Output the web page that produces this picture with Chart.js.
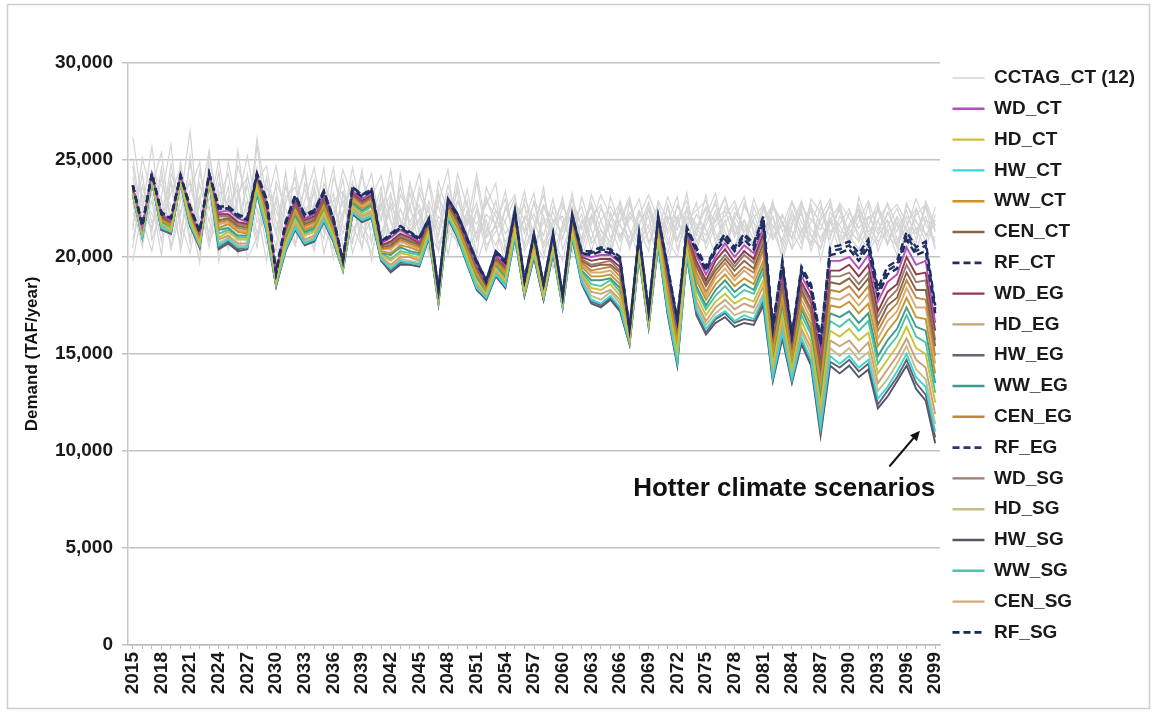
<!DOCTYPE html>
<html>
<head>
<meta charset="utf-8">
<script src="https://cdn.jsdelivr.net/npm/chart.js@4.4.1/dist/chart.umd.min.js"></script>
<style>
html,body{margin:0;padding:0;background:#fff;}
#wrap{position:relative;width:1155px;height:712px;}
canvas{display:block;}
</style>
</head>
<body>
<div id="wrap"><canvas id="c" width="1155" height="712"></canvas></div>
<script>
// ---------- categories ----------
const years = ['2015','2016','2017','2018','2019','2020','2021','2022','2023','2024',
'2025','2026','2027','2028','2029','2030','2031','2032','2033','2034',
'2035','2036','2037','2038','2039','2040','2041','2042','2043','2044',
'2045','2046','2047','2048','2049','2050','2051','2052','2053','2054',
'2055','2056','2057','2058','2059','2060','2061','2062','2063','2064',
'2065','2066','2067','2068','2069','2070','2071','2072','2073','2074',
'2075','2076','2077','2078','2079','2080','2081','2082','2083','2084',
'2085','2086','2087','2088','2089','2090','2091','2092','2093','2094',
'2095','2096','2097','2098','2099'];

// ---------- y axis ticks ----------
const yTicks = [0, 5000, 10000, 15000, 20000, 25000, 30000];

// ---------- CCTAG_CT (12 gray runs), TAF/year ----------
const G01 = [26200,22800,21500,24600,20500,23000,26500,21200,24000,19800,
22500,23800,20600,25800,21900,19600,22800,24100,21000,23600,
21500,20400,23300,22100,24500,20700,22800,19900,24300,21400,
22000,20100,23200,21800,20700,22400,19600,21300,22900,20500,
21800,22700,20300,22100,19400,21600,23000,20700,22200,21100,
19900,22500,21400,20600,22800,21300,19600,21900,22400,20800,
21600,22900,20300,22100,21200,19700,22600,20900,21800,20400,
21300,22700,19800,22000,20900,21500,22400,20300,21100,21900,
20700,22100,21200,22600,20500];
const G02 = [21400,25100,23200,20800,23900,22200,24800,22600,20500,23100,
24300,21200,22900,20500,23600,22400,21100,24500,21900,20300,
23800,22600,21200,23100,20400,23600,21900,24500,21100,22700,
20600,22900,21400,23700,22000,19900,22500,21000,21600,23400,
20700,21900,19800,22600,21400,23100,20200,21900,20900,22500,
21600,20300,22800,21200,22100,19700,21800,23100,20600,21400,
22500,20900,21900,20200,22800,21400,20600,22100,19800,21600,
22900,21100,20400,22300,21600,20800,22700,21300,21900,20600,
21800,20200,22500,21100,21700];
const G03 = [19800,22400,25700,21900,23300,24600,20900,23800,21800,24400,
20500,22900,25200,22400,19800,23100,21700,20600,23800,22200,
20900,24100,22700,21300,22400,19800,23200,21800,20700,22600,
24300,21400,20300,22800,21100,23500,20800,22200,21700,19600,
22400,21200,22800,20700,21900,21300,23300,20400,22000,22700,
21000,21800,22900,20500,21300,22200,20900,20000,22600,21500,
20800,22100,23000,21200,21900,20300,22400,21600,20900,22800,
21400,20600,22100,23000,20700,21500,22200,20900,22600,21300,
22000,20800,21500,20400,22200];
const G04 = [22800,20500,23600,25400,21500,24200,22100,19700,25300,22600,
21400,24700,23000,20900,24100,21300,23600,22500,24700,20500,
22900,21900,24000,20800,22900,24300,21200,22600,19900,23800,
22200,20900,23400,20100,22900,21700,24300,21500,20600,21900,
23000,20500,21600,23200,21000,19800,22100,21400,22700,20300,
23100,21600,21000,22400,20700,22000,21400,22600,21800,20500,
22100,23300,20800,21700,20100,22600,21300,22100,20700,22400,
21000,21800,22900,20500,22100,21400,20800,22000,22400,21100,
20600,21700,22500,21100,21900];
const G05 = [24100,21900,20300,23100,25800,21200,23400,24900,20800,21900,
23600,20100,22400,24600,21200,22900,20400,22100,23500,21800,
24600,20700,22200,23900,21600,20800,23300,20600,22500,21200,
21900,23800,20700,21700,23400,20400,21300,22900,22100,20800,
21500,23400,20900,19900,22600,21800,20700,23100,21400,20000,
22300,21100,21900,23000,20800,21600,20200,22000,22900,21200,
20700,21900,22400,21000,22600,21800,20100,21500,22200,20900,
22800,21400,21000,21900,20300,21700,22500,21200,20600,22300,
21300,22400,20900,22600,21400];
const G06 = [20500,23700,21800,22500,21100,24900,21600,23100,20900,23400,
20800,25500,21900,23200,20600,23900,22500,21300,22900,24600,
21800,23300,20500,21900,24200,22600,20800,23100,22000,20400,
23300,21900,22600,20900,23800,21100,22400,20300,21800,23000,
20600,22100,21300,23600,20100,21700,22600,20800,23200,21900,
20500,22900,21400,20000,22500,21300,23100,21800,20900,22200,
21400,20100,22600,21800,20700,23000,21600,20900,22100,21300,
20400,22600,21700,20900,22800,22000,21200,20300,21900,22700,
20900,21500,23000,21700,20800];
const G07 = [22300,20900,24400,23700,22600,20700,25200,20300,23100,21200,
24900,22300,21500,26100,23000,21100,24400,20600,22300,23300,
20200,22200,24500,23000,21000,21900,22700,21100,23600,21800,
22700,20400,23900,22200,21400,22900,20100,23600,22400,21200,
21900,22700,20600,21800,22300,21000,22400,19900,21700,23200,
22100,20800,22300,21600,22800,20500,22100,21400,23300,20300,
21900,22700,21300,20500,21900,20900,22800,21400,20100,21800,
22200,20700,22600,21300,21700,22500,20900,22700,20300,21600,
22500,21300,21900,20800,22600];
const G08 = [24700,21400,22900,20100,24300,22900,23800,21500,24700,20300,
22900,21800,23700,21200,22700,24700,21900,23000,21300,22600,
23500,21400,22900,21600,20500,23100,24200,21900,20300,23300,
21300,24000,21700,21300,20800,22200,21700,22700,23800,20300,
22600,21400,22200,21100,23000,20400,21900,22600,20700,21400,
20800,22400,20700,22100,23200,21900,20600,22700,21500,22800,
20400,21600,22100,22900,21300,22200,20900,22700,21800,20500,
22600,21900,21400,22800,21000,22300,21500,22100,21200,22800,
21600,20900,22200,22700,21300];
const G09 = [21600,24300,20900,22400,23900,20300,22900,21400,23600,22100,
20400,23300,24100,22500,21400,20300,23100,23600,21600,24000,
22400,19900,21900,24600,22200,21400,22500,23900,21800,20700,
23600,22300,21100,23300,21900,20700,23900,21000,22400,21800,
20300,23000,21900,20500,21700,22800,21300,22200,20300,21900,
22600,21700,20500,21800,22400,20800,22600,20400,21900,22400,
22900,21200,20500,22300,21600,20600,21900,22700,21300,22000,
20700,23000,22300,21100,22600,20500,23100,21600,20800,21400,
20100,22700,21800,21200,21000];
const G10 = [23400,22600,21300,24100,22100,23600,20700,24400,22400,25000,
21900,20600,24300,21800,22200,23600,20300,22700,24400,21200,
22400,24600,21600,20700,23300,21900,23600,20300,23200,22400,
21700,21000,22800,24500,20500,22000,21200,21900,20100,22600,
21300,20700,22900,22100,20800,22600,21700,21000,22800,21400,
20300,21900,23100,20900,21600,22700,21200,22100,20300,21500,
22600,21800,23100,21300,20800,22000,22700,21100,21600,22900,
21800,21100,20500,21700,22400,20800,21800,22900,21400,22200,
22700,21800,20300,21900,21600];
const G11 = [20900,23200,22200,21300,24800,21800,20200,22800,25500,21700,
23100,21300,20800,23900,24700,21800,20900,22100,20700,22800,
21300,22900,23400,20200,21800,22900,20500,22800,21300,23800,
21100,22600,20300,21900,22900,21600,22800,20600,21300,22400,
23200,20300,21400,22700,21900,22100,20500,21700,22600,20800,
21900,22800,20400,22300,21500,20000,22700,20900,22400,21700,
21100,22400,20300,22000,23100,21200,20500,22500,21800,21000,
22400,20300,21900,22600,21300,21200,22100,20700,22500,21800,
20500,22800,21400,22100,20400];
const G12 = [25100,21800,23700,23000,20400,22300,24000,21900,21300,23800,
22600,23500,19900,21000,22400,20500,23800,21300,22600,20900,
23100,21000,22300,23700,21300,20200,22100,23300,20500,21600,
22400,20800,22100,21400,24300,22600,20900,23100,21500,20200,
22800,21900,23300,20200,21400,20900,23000,21500,22100,20600,
21700,21000,22100,21400,20300,22900,21900,20800,22100,21100,
23200,20700,21700,22600,21300,21800,21100,22900,20400,22200,
21200,22400,20800,21900,22700,21100,20400,21600,22800,20700,
22100,21400,20700,22900,21600];

// ---------- scenario series, TAF/year ----------
const WD_CT = [23600,21500,24300,22200,21900,24200,22500,21200,24300,22300,
22400,22000,21800,24200,22800,19100,21600,23000,22000,22200,
23200,21900,19700,23400,23000,23300,20700,21000,21400,21100,
20800,21900,18200,22900,22100,20800,19600,18700,20100,19600,
22200,18700,21100,18500,21100,17900,22100,20100,20000,20100,
20100,19700,16200,21100,17100,21900,19200,16500,21300,20100,
19100,20000,20700,20000,20600,20200,21500,16200,19300,15700,
19000,18100,15200,19800,19800,20000,19400,20100,17700,18700,
19100,20500,19600,19800,16600];
const HD_CT = [23300,21200,24000,21700,21400,23900,21900,20700,24000,21000,
21300,20900,20900,23600,21800,18700,20700,21900,21100,21300,
22300,21100,19400,22600,22200,22400,20100,19800,20200,20100,
19900,21300,17800,22300,21300,20000,18700,18100,19400,18800,
21400,18200,20300,18000,20500,17600,21300,19100,18400,18300,
18600,18000,15700,20300,16600,21000,17700,15100,20400,18000,
17000,17700,18100,17600,17900,17700,18800,14400,17000,14200,
16700,15600,12300,16200,15900,16300,15700,16100,14000,14700,
15400,16400,15300,15000,12500];
const HW_CT = [23200,21000,23900,21500,21300,23800,21700,20600,23900,20600,
20900,20500,20500,23400,21400,18600,20400,21500,20700,20900,
21900,20900,19300,22300,21900,22100,19900,19400,19800,19700,
19600,21100,17700,22100,21100,19700,18400,17900,19100,18500,
21100,18100,20100,17900,20300,17400,21100,18700,17800,17600,
18000,17400,15600,20100,16500,20700,17200,14600,20100,17300,
16300,16900,17200,16700,17000,16800,17900,13800,16100,13700,
15800,14700,11200,14900,14500,14900,14300,14700,12700,13300,
14100,15000,13800,13300,11000];
const WW_CT = [23500,21300,24100,21900,21600,24000,22100,20900,24100,21500,
21700,21300,21200,23800,22200,18900,21100,22300,21400,21600,
22600,21400,19600,22900,22500,22800,20300,20200,20600,20500,
20300,21500,18000,22500,21600,20300,19100,18300,19700,19100,
21700,18400,20600,18200,20700,17700,21600,19500,19000,19000,
19100,18600,15900,20600,16800,21400,18300,15600,20800,18800,
17800,18600,19100,18500,18900,18600,19800,15100,17800,14800,
17500,16500,13400,17500,17400,17700,17100,17600,15400,16200,
16800,17900,16900,16800,14000];
const CEN_CT = [23600,21400,24200,22000,21800,24100,22300,21100,24200,21900,
22000,21600,21500,24000,22500,19000,21400,22700,21700,21900,
22900,21600,19700,23200,22800,23100,20500,20600,21000,20800,
20600,21700,18100,22700,21800,20600,19400,18500,19900,19400,
22000,18600,20800,18400,20900,17800,21800,19800,19500,19600,
19600,19200,16100,20800,17000,21700,18800,16100,21100,19500,
18500,19300,19900,19300,19800,19400,20700,15600,18600,15300,
18300,17300,14300,18700,18600,18900,18300,18900,16500,17500,
17900,19200,18300,18300,15400];
const RF_CT = [23700,21600,24300,22300,22000,24200,22600,21300,24300,22600,
22600,22200,22000,24300,23000,19200,21800,23200,22200,22400,
23400,22000,19800,23600,23200,23500,20800,21200,21600,21300,
21000,22000,18300,23000,22200,21000,19800,18800,20300,19800,
22400,18800,21200,18600,21200,18000,22200,20300,20300,20500,
20400,20000,16300,21200,17200,22100,19500,16800,21500,20500,
19500,20500,21200,20500,21200,20700,22100,16500,19800,16000,
19500,18600,15800,20500,20600,20800,20200,20900,18400,19500,
19800,21300,20500,20800,17500];
const WD_EG = [23600,21500,24200,22100,21800,24100,22400,21100,24200,22200,
22200,21800,21700,24100,22700,19100,21500,22900,21900,22100,
23100,21800,19700,23300,22900,23200,20600,20800,21200,21000,
20700,21800,18200,22800,22000,20700,19500,18600,20100,19500,
22100,18600,21000,18400,21000,17900,22000,20000,19800,19900,
19900,19500,16100,21000,17000,21800,19000,16300,21200,19800,
18800,19800,20400,19700,20300,19900,21200,15900,19000,15500,
18700,17800,14900,19300,19300,19600,19000,19600,17200,18200,
18600,20000,19100,19200,16200];
const HD_EG = [23300,21100,24000,21600,21400,23900,21800,20700,24000,20900,
21100,20700,20700,23500,21700,18600,20600,21800,20900,21100,
22100,21100,19400,22500,22100,22300,20000,19600,20000,20000,
19800,21200,17700,22200,21300,19900,18600,18000,19300,18700,
21300,18200,20300,18000,20400,17500,21300,19000,18200,18100,
18300,17800,15700,20300,16600,20900,17500,14900,20300,17700,
16700,17400,17800,17300,17600,17400,18500,14200,16600,14000,
16300,15300,11900,15700,15400,15700,15100,15600,13500,14200,
14900,15800,14700,14300,11900];
const HW_EG = [23200,21000,23900,21400,21200,23800,21600,20500,23900,20500,
20800,20400,20500,23300,21400,18500,20400,21500,20700,20900,
21900,20800,19300,22300,21900,22100,19800,19300,19700,19700,
19600,21000,17600,22000,21000,19700,18400,17800,19100,18500,
21100,18000,20000,17800,20200,17400,21000,18700,17700,17500,
17900,17300,15500,20000,16400,20700,17100,14500,20100,17100,
16100,16800,17100,16600,16800,16700,17700,13700,16000,13600,
15700,14600,11000,14600,14300,14700,14100,14500,12400,13100,
13800,14700,13500,12900,10700];
const WW_EG = [23400,21300,24100,21800,21600,24000,22000,20900,24100,21400,
21500,21100,21100,23700,22000,18800,21000,22200,21300,21500,
22500,21300,19500,22800,22400,22700,20200,20100,20500,20300,
20200,21400,17900,22400,21500,20200,19000,18200,19600,19000,
21600,18400,20500,18200,20600,17700,21500,19300,18800,18800,
18900,18400,15900,20500,16800,21300,18100,15500,20700,18500,
17500,18300,18800,18200,18600,18300,19500,14900,17600,14600,
17300,16200,13000,17100,16900,17200,16600,17100,14900,15700,
16300,17400,16400,16200,13500];
const CEN_EG = [23500,21400,24200,22000,21700,24100,22200,21000,24200,21800,
21900,21500,21400,23900,22400,18900,21300,22600,21600,21800,
22800,21600,19600,23100,22700,23000,20400,20500,20900,20700,
20500,21600,18000,22600,21800,20500,19300,18400,19800,19300,
21900,18500,20800,18300,20800,17800,21800,19700,19300,19400,
19500,19000,16000,20800,16900,21600,18600,15900,21000,19200,
18200,19100,19700,19000,19500,19200,20400,15500,18400,15100,
18100,17100,14000,18300,18200,18500,17900,18500,16200,17100,
17600,18800,17900,17800,14900];
const RF_EG = [23700,21600,24300,22300,22000,24200,22600,21300,24300,22500,
22500,22100,22000,24300,22900,19200,21800,23100,22200,22400,
23400,22000,19800,23600,23200,23500,20800,21100,21500,21200,
21000,22000,18300,23000,22200,21000,19800,18800,20300,19800,
22400,18800,21200,18600,21200,18000,22200,20200,20200,20400,
20300,19900,16300,21200,17200,22100,19400,16700,21500,20400,
19400,20400,21100,20400,21100,20600,22000,16400,19700,15900,
19400,18500,15700,20300,20400,20600,20000,20700,18200,19300,
19600,21100,20300,20600,17300];
const WD_SG = [23600,21500,24200,22100,21800,24100,22400,21100,24200,22100,
22100,21700,21600,24100,22600,19000,21400,22800,21800,22000,
23000,21700,19700,23300,22900,23100,20600,20700,21100,20900,
20600,21800,18100,22800,21900,20700,19400,18600,20000,19500,
22100,18600,20900,18400,21000,17900,21900,19900,19600,19700,
19800,19300,16100,20900,17000,21700,18900,16200,21100,19600,
18600,19500,20100,19500,20100,19700,21000,15800,18800,15400,
18500,17600,14600,19000,19000,19200,18600,19200,16900,17800,
18300,19600,18700,18800,15700];
const HD_SG = [23300,21100,24000,21500,21300,23900,21700,20600,24000,20700,
21000,20600,20600,23400,21500,18600,20500,21700,20800,21000,
22000,21000,19400,22400,22000,22200,19900,19500,19900,19800,
19700,21100,17700,22100,21200,19800,18500,17900,19200,18600,
21200,18100,20200,17900,20300,17500,21200,18800,18000,17800,
18200,17600,15600,20200,16500,20800,17400,14700,20200,17500,
16500,17100,17500,17000,17200,17100,18100,14000,16400,13900,
16100,15000,11500,15300,14900,15300,14700,15100,13100,13700,
14500,15400,14200,13700,11400];
const HW_SG = [23200,21000,23900,21400,21200,23800,21600,20500,23900,20400,
20700,20300,20400,23300,21300,18500,20300,21400,20600,20800,
21800,20800,19300,22200,21800,22000,19800,19200,19600,19600,
19500,21000,17600,22000,21000,19600,18300,17800,19000,18400,
21000,18000,20000,17800,20200,17400,21000,18600,17600,17400,
17800,17200,15500,20000,16400,20600,17000,14400,20000,17000,
16000,16600,16900,16400,16600,16500,17500,13600,15800,13500,
15500,14400,10800,14400,14000,14400,13800,14200,12200,12800,
13600,14400,13200,12600,10400];
const WW_SG = [23400,21200,24000,21700,21500,23900,22000,20800,24000,21200,
21400,21000,21000,23700,21900,18800,20900,22100,21200,21400,
22400,21200,19500,22700,22300,22600,20200,19900,20300,20200,
20100,21400,17900,22400,21400,20100,18900,18200,19500,18900,
21500,18300,20400,18100,20600,17600,21400,19200,18600,18500,
18800,18200,15800,20400,16700,21200,17900,15300,20600,18300,
17300,18000,18500,17900,18300,18100,19200,14700,17300,14400,
17000,16000,12700,16700,16400,16800,16200,16700,14500,15300,
15900,17000,15900,15600,13000];
const CEN_SG = [23500,21300,24100,21900,21700,24000,22200,21000,24100,21700,
21800,21400,21300,23900,22300,18900,21200,22400,21500,21700,
22700,21500,19600,23000,22600,22900,20400,20400,20800,20600,
20400,21600,18000,22600,21700,20400,19200,18400,19800,19200,
21800,18500,20700,18300,20800,17700,21700,19600,19200,19200,
19300,18800,16000,20700,16900,21500,18500,15800,20900,19000,
18000,18900,19400,18800,19300,18900,20200,15300,18100,15000,
17800,16800,13700,17900,17800,18100,17500,18100,15800,16700,
17200,18400,17400,17400,14500];
const RF_SG = [23700,21600,24300,22200,22000,24200,22500,21300,24300,22500,
22500,22100,21900,24200,22900,19200,21700,23100,22100,22300,
23300,21900,19800,23500,23100,23400,20700,21100,21500,21200,
20900,21900,18300,22900,22100,20900,19700,18700,20200,19700,
22300,18800,21100,18600,21100,18000,22100,20200,20100,20300,
20200,19800,16300,21100,17200,22000,19400,16700,21400,20300,
19300,20300,20900,20300,20900,20400,21800,16300,19600,15900,
19300,18300,15500,20100,20200,20400,19800,20500,18000,19100,
19400,20900,20100,20300,17100];

// ---------- build chart ----------
const FONT = "'Liberation Sans', Arial, Helvetica, sans-serif";
const NOTE_TEXT = 'Hotter climate scenarios';
const GRAY_LABEL = 'CCTAG_CT (12)';

const grayRuns = [G01,G02,G03,G04,G05,G06,G07,G08,G09,G10,G11,G12];
const scenarioList = [
  ['WD_CT', WD_CT, '#b44fc0', false],
  ['HD_CT', HD_CT, '#c9c23a', false],
  ['HW_CT', HW_CT, '#3ad6d6', false],
  ['WW_CT', WW_CT, '#c7952c', false],
  ['CEN_CT', CEN_CT, '#8b6347', false],
  ['RF_CT', RF_CT, '#1f3060', true],
  ['WD_EG', WD_EG, '#8c3b4b', false],
  ['HD_EG', HD_EG, '#c8a07a', false],
  ['HW_EG', HW_EG, '#636372', false],
  ['WW_EG', WW_EG, '#3e9c8c', false],
  ['CEN_EG', CEN_EG, '#c0863e', false],
  ['RF_EG', RF_EG, '#25386e', true],
  ['WD_SG', WD_SG, '#9a7d6e', false],
  ['HD_SG', HD_SG, '#c6bc8a', false],
  ['HW_SG', HW_SG, '#51566a', false],
  ['WW_SG', WW_SG, '#4cc4a6', false],
  ['CEN_SG', CEN_SG, '#d6aa78', false],
  ['RF_SG', RF_SG, '#1b2a55', true]
];

const datasets = [];
grayRuns.forEach((arr, k) => {
  datasets.push({
    label: GRAY_LABEL, data: arr, borderColor: '#d4d4d4', backgroundColor: '#d4d4d4',
    borderWidth: 1.2, pointRadius: 0, order: 3, legendHide: k > 0, legendWidth: 1.6
  });
});
scenarioList.forEach(([name, arr, color, dashed]) => {
  datasets.push({
    label: name, data: arr, borderColor: color, backgroundColor: color,
    borderWidth: dashed ? 2.4 : 1.9, borderDash: dashed ? [7, 4] : [],
    pointRadius: 0, order: dashed ? 1 : 2, legendHide: false, legendWidth: dashed ? 2.8 : 2.4
  });
});

const framePlugin = {
  id: 'frame',
  beforeDraw(chart) {
    const c = chart.ctx;
    c.save();
    c.fillStyle = '#ffffff';
    c.fillRect(0, 0, chart.width, chart.height);
    c.strokeStyle = '#cfcfcf';
    c.lineWidth = 1.5;
    c.strokeRect(7.5, 4.5, chart.width - 13, chart.height - 8);
    c.restore();
  }
};

const notePlugin = {
  id: 'hotterNote',
  afterDatasetsDraw(chart) {
    const {ctx, scales} = chart;
    const x = scales.x, y = scales.y;
    ctx.save();
    ctx.fillStyle = '#111111';
    ctx.font = 'bold 26px ' + FONT;
    ctx.textAlign = 'right';
    ctx.textBaseline = 'alphabetic';
    ctx.fillText(NOTE_TEXT, x.getPixelForValue(84), y.getPixelForValue(7700));
    const x0 = x.getPixelForValue(79.2), y0 = y.getPixelForValue(9200);
    const x1 = x.getPixelForValue(82.4), y1 = y.getPixelForValue(11050);
    const ang = Math.atan2(y1 - y0, x1 - x0);
    ctx.strokeStyle = '#111111';
    ctx.lineWidth = 2;
    ctx.beginPath();
    ctx.moveTo(x0, y0);
    ctx.lineTo(x1 - 6 * Math.cos(ang), y1 - 6 * Math.sin(ang));
    ctx.stroke();
    ctx.beginPath();
    ctx.moveTo(x1, y1);
    ctx.lineTo(x1 - 10 * Math.cos(ang) + 4.5 * Math.sin(ang), y1 - 10 * Math.sin(ang) - 4.5 * Math.cos(ang));
    ctx.lineTo(x1 - 10 * Math.cos(ang) - 4.5 * Math.sin(ang), y1 - 10 * Math.sin(ang) + 4.5 * Math.cos(ang));
    ctx.closePath();
    ctx.fill();
    ctx.restore();
  }
};

Chart.defaults.font.family = FONT;

new Chart(document.getElementById('c'), {
  type: 'line',
  data: { labels: years, datasets },
  options: {
    responsive: false,
    animation: false,
    events: [],
    locale: 'en-US',
    elements: { line: { tension: 0 }, point: { radius: 0 } },
    layout: { padding: { top: 63, left: 8, right: 13, bottom: 0 } },
    plugins: {
      tooltip: { enabled: false },
      legend: {
        position: 'right',
        align: 'start',
        maxWidth: 195,
        labels: {
          usePointStyle: true,
          pointStyle: 'line',
          pointStyleWidth: 32,
          padding: 5.5,
          color: '#1a1a1a',
          font: { family: FONT, size: 19, weight: 'bold', lineHeight: '25.3px' },
          generateLabels: (chart) => chart.data.datasets.map((ds, i) => ({
            text: [ds.label],
            fillStyle: ds.borderColor,
            strokeStyle: ds.borderColor,
            lineWidth: ds.legendWidth,
            lineDash: ds.borderDash || [],
            pointStyle: 'line',
            hidden: false,
            fontColor: '#1a1a1a',
            datasetIndex: i
          })),
          filter: (item, data) => !data.datasets[item.datasetIndex].legendHide
        }
      }
    },
    scales: {
      x: {
        type: 'category',
        offset: true,
        grid: { display: true, drawOnChartArea: false, drawTicks: true, tickLength: 4, color: '#bdbdbd' },
        border: { display: true, color: '#bdbdbd', width: 1.5 },
        ticks: {
          autoSkip: false, maxRotation: 90, minRotation: 90, padding: 3,
          color: '#1a1a1a', font: { family: FONT, size: 19, weight: 'bold' },
          callback: function (val, idx) { return idx % 3 === 0 ? this.getLabelForValue(val) : ''; }
        },
        afterFit: (s) => { s.height = 67; }
      },
      y: {
        min: yTicks[0], max: yTicks[yTicks.length - 1],
        afterBuildTicks: (s) => { s.ticks = yTicks.map(v => ({ value: v })); },
        grid: { color: '#c2c2c2', lineWidth: 1.5, tickLength: 6, drawTicks: true },
        border: { display: true, color: '#c8c8c8', width: 1.5 },
        ticks: { padding: 9, color: '#1a1a1a', font: { family: FONT, size: 19, weight: 'bold' } },
        title: {
          display: true, text: 'Demand (TAF/year)', color: '#111111',
          font: { family: FONT, size: 17, weight: 'bold' }, padding: { top: 14, bottom: 0 }
        },
        afterFit: (s) => { s.width = 120; }
      },
      yR: {
        type: 'linear', position: 'right', display: true,
        grid: { display: false }, border: { display: false }, ticks: { display: false },
        afterFit: (s) => { s.width = 7; }
      }
    }
  },
  plugins: [framePlugin, notePlugin]
});
</script>
</body>
</html>
